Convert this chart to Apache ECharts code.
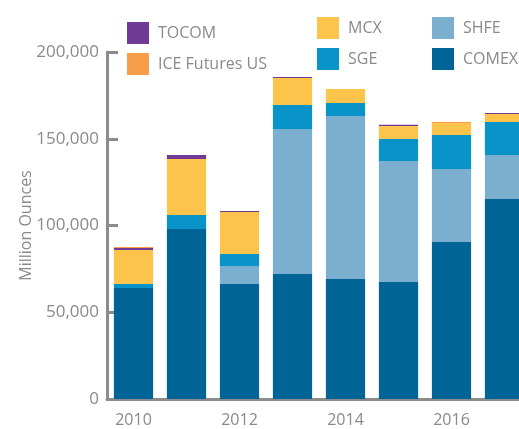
<!DOCTYPE html>
<html>
<head>
<meta charset="utf-8">
<script src="https://cdn.jsdelivr.net/npm/echarts@6/dist/echarts.min.js"></script>
<style>
  html, body { margin: 0; padding: 0; background: #fff; }
  #chart { width: 519px; height: 429px; }
</style>
</head>
<body>
<div id="chart"></div>
<script>
  const years = ['2010', '2011', '2012', '2013', '2014', '2015', '2016', '2017'];

  // stacked bottom to top
  const comex = [64000, 98000, 66300, 72000, 69200, 67400, 90500, 115300];
  const shfe = [0, 0, 10400, 83600, 93900, 69800, 42100, 25300];
  const sge = [2300, 8000, 6900, 13900, 7500, 12700, 19600, 19100];
  const mcx = [19600, 32300, 24200, 15500, 8100, 7500, 6900, 4600];
  const tocom = [1200, 2300, 600, 600, 0, 600, 0, 600];
  const iceUS = [500, 0, 0, 0, 0, 0, 600, 0];

  const yTicks = [0, 50000, 100000, 150000, 200000];

  const colors = {
    COMEX: '#006496',
    SHFE: '#7bafd0',
    SGE: '#0893c9',
    MCX: '#fdc44c',
    TOCOM: '#6f3b97',
    'ICE Futures US': '#f89d48',
  };

  const gray = '#8c8c8c';
  const textGray = '#8a8a8a';
  const font = 'Open Sans';

  const makeSeries = (name, data) => ({
    name: name,
    type: 'bar',
    stack: 'total',
    barCategoryGap: '26%',
    itemStyle: { color: colors[name] },
    data: data,
  });

  const legendBase = {
    orient: 'vertical',
    itemWidth: 22,
    itemHeight: 22,
    itemGap: 9,
    icon: 'rect',
    textStyle: { color: textGray, fontSize: 16, fontFamily: font, padding: [0, 0, 0, 4] },
  };

  const option = {
    animation: false,
    legend: [
      { ...legendBase, left: 122, top: 17, data: ['TOCOM', 'ICE Futures US'] },
      { ...legendBase, left: 312, top: 12, data: ['MCX', 'SGE'] },
      { ...legendBase, left: 427, top: 12, data: ['SHFE', 'COMEX'] },
    ],
    grid: {
      left: 107,
      right: -12,
      top: 52,
      bottom: 30,
      outerBoundsMode: 'none',
    },
    xAxis: {
      type: 'category',
      data: years,
      axisLine: { lineStyle: { color: gray, width: 3 } },
      axisTick: {
        alignWithLabel: true,
        interval: 1,
        length: 8,
        lineStyle: { color: gray, width: 3 },
      },
      axisLabel: {
        interval: 1,
        color: textGray,
        fontSize: 16,
        fontFamily: font,
        margin: 13,
      },
    },
    yAxis: {
      type: 'value',
      min: 0,
      max: yTicks[yTicks.length - 1],
      interval: 50000,
      name: 'Million Ounces',
      nameLocation: 'middle',
      nameGap: 73,
      nameMoveOverlap: false,
      nameTextStyle: { color: textGray, fontSize: 16, fontFamily: font },
      splitLine: { show: false },
      axisLine: { show: true, lineStyle: { color: gray, width: 3 } },
      axisTick: {
        show: true,
        inside: true,
        length: 11,
        lineStyle: { color: gray, width: 3 },
      },
      axisLabel: {
        color: textGray,
        fontSize: 17,
        fontFamily: font,
        margin: 8,
        formatter: (v) => v.toLocaleString('en-US'),
      },
    },
    series: [
      makeSeries('COMEX', comex),
      makeSeries('SHFE', shfe),
      makeSeries('SGE', sge),
      makeSeries('MCX', mcx),
      makeSeries('TOCOM', tocom),
      makeSeries('ICE Futures US', iceUS),
    ],
  };

  const chart = echarts.init(document.getElementById('chart'));
  chart.setOption(option);
</script>
</body>
</html>
